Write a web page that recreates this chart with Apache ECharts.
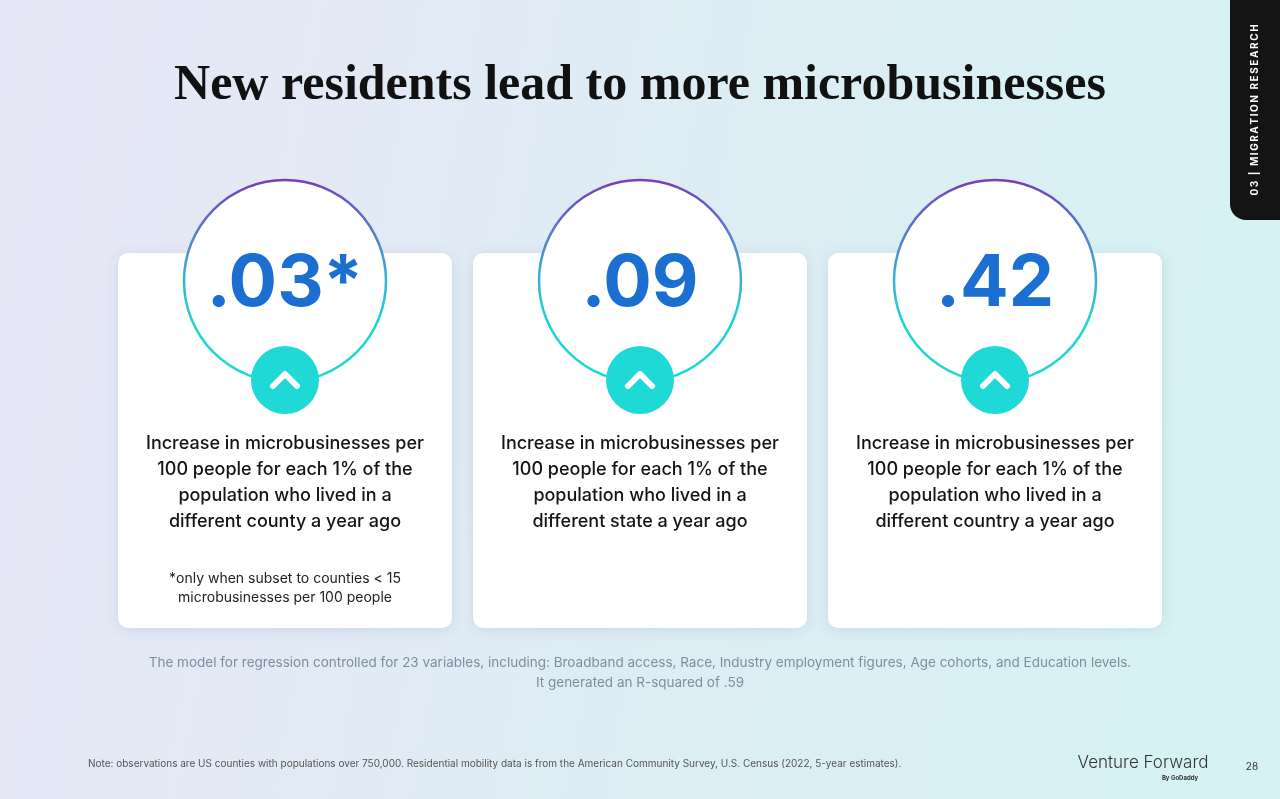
<!DOCTYPE html>
<html><head><meta charset="utf-8">
<script src="https://cdn.jsdelivr.net/npm/echarts@6/dist/echarts.min.js"></script>
<style>html,body{margin:0;padding:0;}#c{width:1280px;height:799px;}</style>
</head><body><div id="c"></div>
<script>
const values = ['.03*', '.09', '.42'];
const descriptions = [
  ['Increase in microbusinesses per','100 people for each 1% of the','population who lived in a','different county a year ago'],
  ['Increase in microbusinesses per','100 people for each 1% of the','population who lived in a','different state a year ago'],
  ['Increase in microbusinesses per','100 people for each 1% of the','population who lived in a','different country a year ago']
];
const footnotes = [['*only when subset to counties < 15','microbusinesses per 100 people'], [], []];
const title = 'New residents lead to more microbusinesses';
const tabLabel = '03 | MIGRATION RESEARCH';
const modelNote = ['The model for regression controlled for 23 variables, including: Broadband access, Race, Industry employment figures, Age cohorts, and Education levels.','It generated an R-squared of .59'];
const sourceNote = 'Note: observations are US counties with populations over 750,000. Residential mobility data is from the American Community Survey, U.S. Census (2022, 5-year estimates).';

const chart = echarts.init(document.getElementById('c'));
const F = 'Inter, "Noto Sans", sans-serif';
const els = [];
els.push({type:'rect', shape:{x:0,y:0,width:1280,height:799}, style:{fill:{type:'linear',x:0,y:0,x2:1,y2:0.3,colorStops:[{offset:0,color:'#e7e6f6'},{offset:1,color:'#d6f2f3'}]}}, z:0});
els.push({type:'text', style:{text:title, x:640, y:86, align:'center', verticalAlign:'middle', font:'bold 50px "Liberation Serif", "DejaVu Serif", serif', fill:'#111'}, z:2});
els.push({type:'rect', shape:{x:1230,y:-20,width:60,height:240,r:[0,0,0,16]}, style:{fill:'#141414'}, z:2});
els.push({type:'text', rotation:Math.PI/2, x:1255, y:110, style:{text:tabLabel.split('').join('\u2009'), align:'center', verticalAlign:'middle', font:'bold 10px '+F, fill:'#fff'}, z:3});
values.forEach((v,i)=>{
  const x0 = 118 + i*355, cx = x0 + 167;
  els.push({type:'rect', shape:{x:x0,y:253,width:334,height:375,r:10}, style:{fill:'#fff', shadowBlur:14, shadowColor:'rgba(60,60,120,0.12)', shadowOffsetY:2}, z:1});
  els.push({type:'circle', shape:{cx:cx, cy:281, r:101}, style:{fill:'#fff', lineWidth:2.5, stroke:{type:'linear',x:0,y:0,x2:0,y2:1,colorStops:[{offset:0,color:'#7a3cb8'},{offset:0.45,color:'#3fa8d2'},{offset:0.7,color:'#1fd3d3'},{offset:1,color:'#1fd8d6'}]}}, z:2});
  els.push({type:'text', style:{text:v, x:cx, y:284, align:'center', verticalAlign:'middle', font:'bold 72px '+F, fill:'#1b6fd1'}, z:3});
  els.push({type:'circle', shape:{cx:cx, cy:380, r:34}, style:{fill:'#1fd9d7'}, z:3});
  els.push({type:'polyline', shape:{points:[[cx-12,386],[cx,374],[cx+12,386]]}, style:{stroke:'#fff', lineWidth:6, lineCap:'round', lineJoin:'round', fill:null}, z:4});
  descriptions[i].forEach((t,j)=>{
    els.push({type:'text', style:{text:t, x:cx, y:444+j*26, align:'center', verticalAlign:'middle', font:'500 18px '+F, fill:'#141414'}, z:3});
  });
  footnotes[i].forEach((t,j)=>{
    els.push({type:'text', style:{text:t, x:cx, y:579+j*19, align:'center', verticalAlign:'middle', font:'14px '+F, fill:'#222'}, z:3});
  });
});
modelNote.forEach((t,j)=>{
  els.push({type:'text', style:{text:t, x:640, y:663+j*20, align:'center', verticalAlign:'middle', font:'13.5px '+F, fill:'#7e8e9e'}, z:3});
});
els.push({type:'text', style:{text:sourceNote, x:88, y:764, verticalAlign:'middle', font:'10px '+F, fill:'#555'}, z:3});
els.push({type:'text', style:{text:'Venture Forward', x:1143, y:763, align:'center', verticalAlign:'middle', font:'300 17px '+F, fill:'#333'}, z:3});
els.push({type:'text', style:{text:'By GoDaddy', x:1180, y:778, align:'center', verticalAlign:'middle', font:'bold 6px '+F, fill:'#333'}, z:3});
els.push({type:'text', style:{text:'28', x:1252, y:767, align:'center', verticalAlign:'middle', font:'10px '+F, fill:'#333'}, z:3});
chart.setOption({animation:false, graphic:{elements:els}});
</script></body></html>
